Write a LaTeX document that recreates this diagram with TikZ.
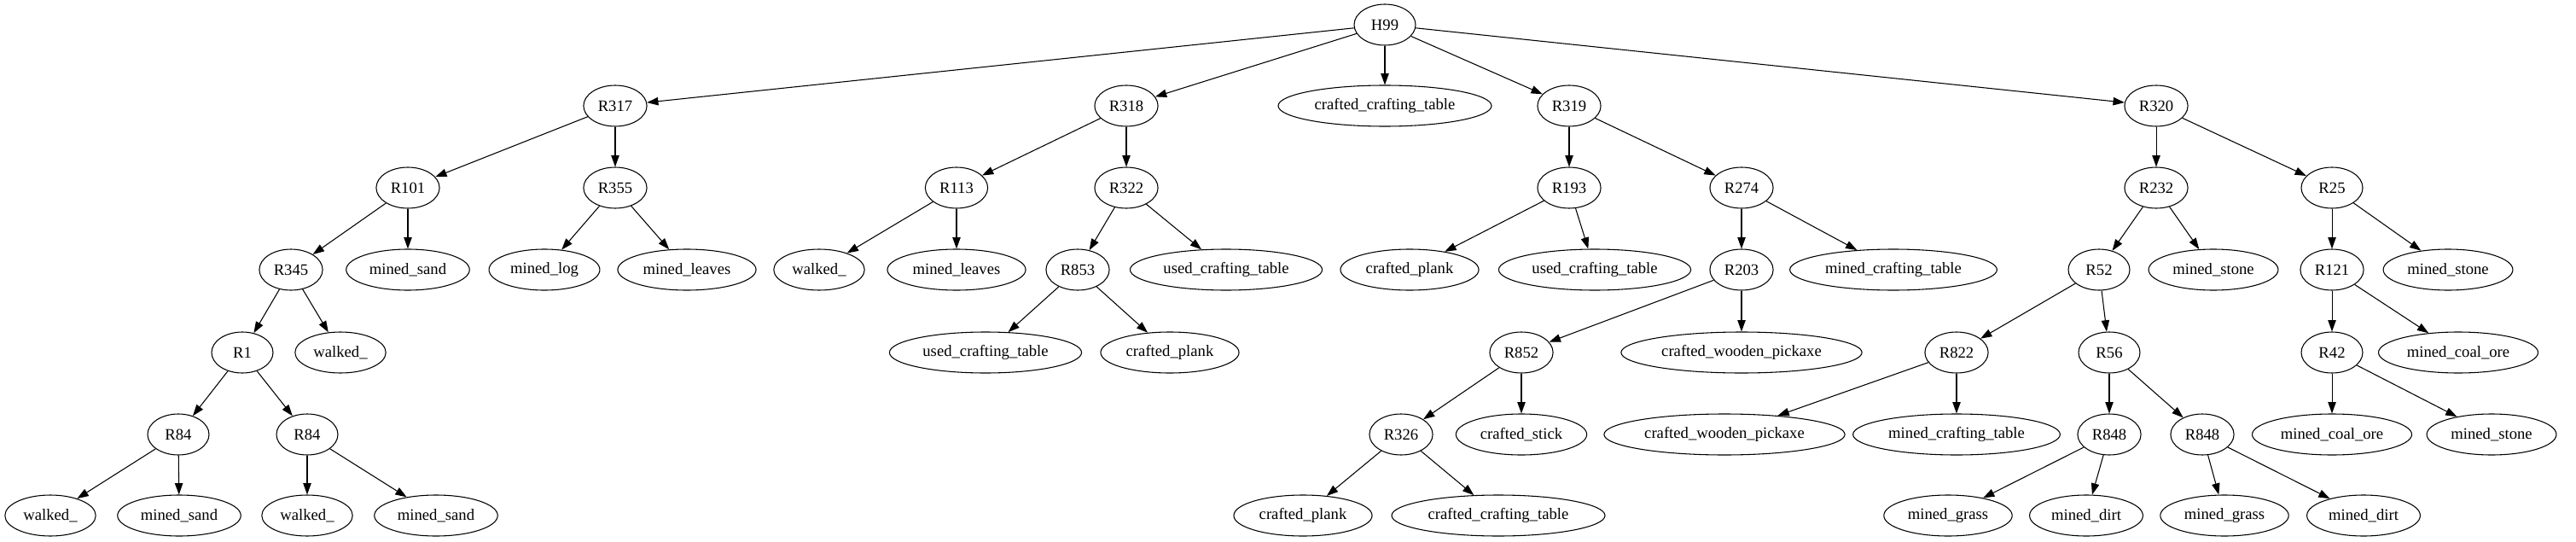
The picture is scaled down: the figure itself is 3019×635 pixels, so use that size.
\documentclass[tikz,border=0pt]{standalone}
\usepackage{fontspec}
\setmainfont{Liberation Serif}
\usetikzlibrary{shapes.geometric,arrows.meta}

\begin{document}
\begin{tikzpicture}[
    x=0.75pt, y=-0.75pt,
    st/.style={ellipse, draw, line width=0.8pt, minimum width=54pt, minimum height=36pt,
        inner xsep=4.5pt, inner ysep=2pt, font=\fontsize{14}{16}\selectfont},
    arr/.style={line width=0.8pt, -{Triangle[length=10pt,width=7pt]}},
]
    \useasboundingbox (0,0) rectangle (3019,635);

    % Root
    \node[st] (h99) at (1623, 29) {H99};

    % Level 1
    \node[st] (r317) at (721, 124) {R317};
    \node[st] (r318) at (1320, 124) {R318};
    \node[st] (cct1) at (1623, 124) {crafted\_crafting\_table};
    \node[st] (r319) at (1839, 124) {R319};
    \node[st] (r320) at (2527, 124) {R320};

    % Level 2
    \node[st] (r101) at (478, 220) {R101};
    \node[st] (r355) at (721, 220) {R355};
    \node[st] (r113) at (1121, 220) {R113};
    \node[st] (r322) at (1320, 220) {R322};
    \node[st] (r193) at (1839, 220) {R193};
    \node[st] (r274) at (2041, 220) {R274};
    \node[st] (r232) at (2527, 220) {R232};
    \node[st] (r25) at (2733, 220) {R25};

    % Level 3
    \node[st] (r345) at (341, 316) {R345};
    \node[st] (msand1) at (478, 316) {mined\_sand};
    \node[st] (mlog) at (638, 316) {mined\_log};
    \node[st] (mleaves1) at (805, 316) {mined\_leaves};
    \node[st] (walked1) at (960, 316) {walked\_};
    \node[st] (mleaves2) at (1121, 316) {mined\_leaves};
    \node[st] (r853) at (1263, 316) {R853};
    \node[st] (uct1) at (1437, 316) {used\_crafting\_table};
    \node[st] (cplank1) at (1652, 316) {crafted\_plank};
    \node[st] (uct2) at (1869, 316) {used\_crafting\_table};
    \node[st] (r203) at (2041, 316) {R203};
    \node[st] (mct1) at (2219, 316) {mined\_crafting\_table};
    \node[st] (r52) at (2460, 316) {R52};
    \node[st] (mstone1) at (2594, 316) {mined\_stone};
    \node[st] (r121) at (2733, 316) {R121};
    \node[st] (mstone2) at (2869, 316) {mined\_stone};

    % Level 4
    \node[st] (r1) at (284, 413) {R1};
    \node[st] (walked2) at (399, 413) {walked\_};
    \node[st] (uct3) at (1155, 413) {used\_crafting\_table};
    \node[st] (cplank2) at (1371, 413) {crafted\_plank};
    \node[st] (r852) at (1783, 413) {R852};
    \node[st] (cwp1) at (2041, 413) {crafted\_wooden\_pickaxe};
    \node[st] (r822) at (2293, 413) {R822};
    \node[st] (r56) at (2472, 413) {R56};
    \node[st] (r42) at (2733, 413) {R42};
    \node[st] (mcoal1) at (2881, 413) {mined\_coal\_ore};

    % Level 5
    \node[st] (r84a) at (209, 509) {R84};
    \node[st] (r84b) at (360, 509) {R84};
    \node[st] (r326) at (1642, 509) {R326};
    \node[st] (cstick) at (1783, 509) {crafted\_stick};
    \node[st] (cwp2) at (2021, 509) {crafted\_wooden\_pickaxe};
    \node[st] (mct2) at (2293, 509) {mined\_crafting\_table};
    \node[st] (r848a) at (2472, 509) {R848};
    \node[st] (r848b) at (2581, 509) {R848};
    \node[st] (mcoal2) at (2733, 509) {mined\_coal\_ore};
    \node[st] (mstone3) at (2920, 509) {mined\_stone};

    % Level 6
    \node[st] (walked3) at (59, 604) {walked\_};
    \node[st] (msand2) at (210, 604) {mined\_sand};
    \node[st] (walked4) at (360, 604) {walked\_};
    \node[st] (msand3) at (511, 604) {mined\_sand};
    \node[st] (cplank3) at (1527, 604) {crafted\_plank};
    \node[st] (cct2) at (1756, 604) {crafted\_crafting\_table};
    \node[st] (mgrass1) at (2283, 604) {mined\_grass};
    \node[st] (mdirt1) at (2445, 604) {mined\_dirt};
    \node[st] (mgrass2) at (2607, 604) {mined\_grass};
    \node[st] (mdirt2) at (2770, 604) {mined\_dirt};

    % Edges
    \foreach \a/\b in {h99/r317, h99/r318, h99/cct1, h99/r319, h99/r320,
        r317/r101, r317/r355, r101/r345, r101/msand1, r355/mlog, r355/mleaves1,
        r345/r1, r345/walked2, r1/r84a, r1/r84b,
        r84a/walked3, r84a/msand2, r84b/walked4, r84b/msand3,
        r318/r113, r318/r322, r113/walked1, r113/mleaves2,
        r322/r853, r322/uct1, r853/uct3, r853/cplank2,
        r319/r193, r319/r274, r193/cplank1, r193/uct2,
        r274/r203, r274/mct1, r203/r852, r203/cwp1,
        r852/r326, r852/cstick, r326/cplank3, r326/cct2,
        r320/r232, r320/r25, r232/r52, r232/mstone1,
        r52/r822, r52/r56, r822/cwp2, r822/mct2,
        r56/r848a, r56/r848b, r848a/mgrass1, r848a/mdirt1,
        r848b/mgrass2, r848b/mdirt2,
        r25/r121, r25/mstone2, r121/r42, r121/mcoal1,
        r42/mcoal2, r42/mstone3}
        \draw[arr] (\a) -- (\b);
\end{tikzpicture}
\end{document}
